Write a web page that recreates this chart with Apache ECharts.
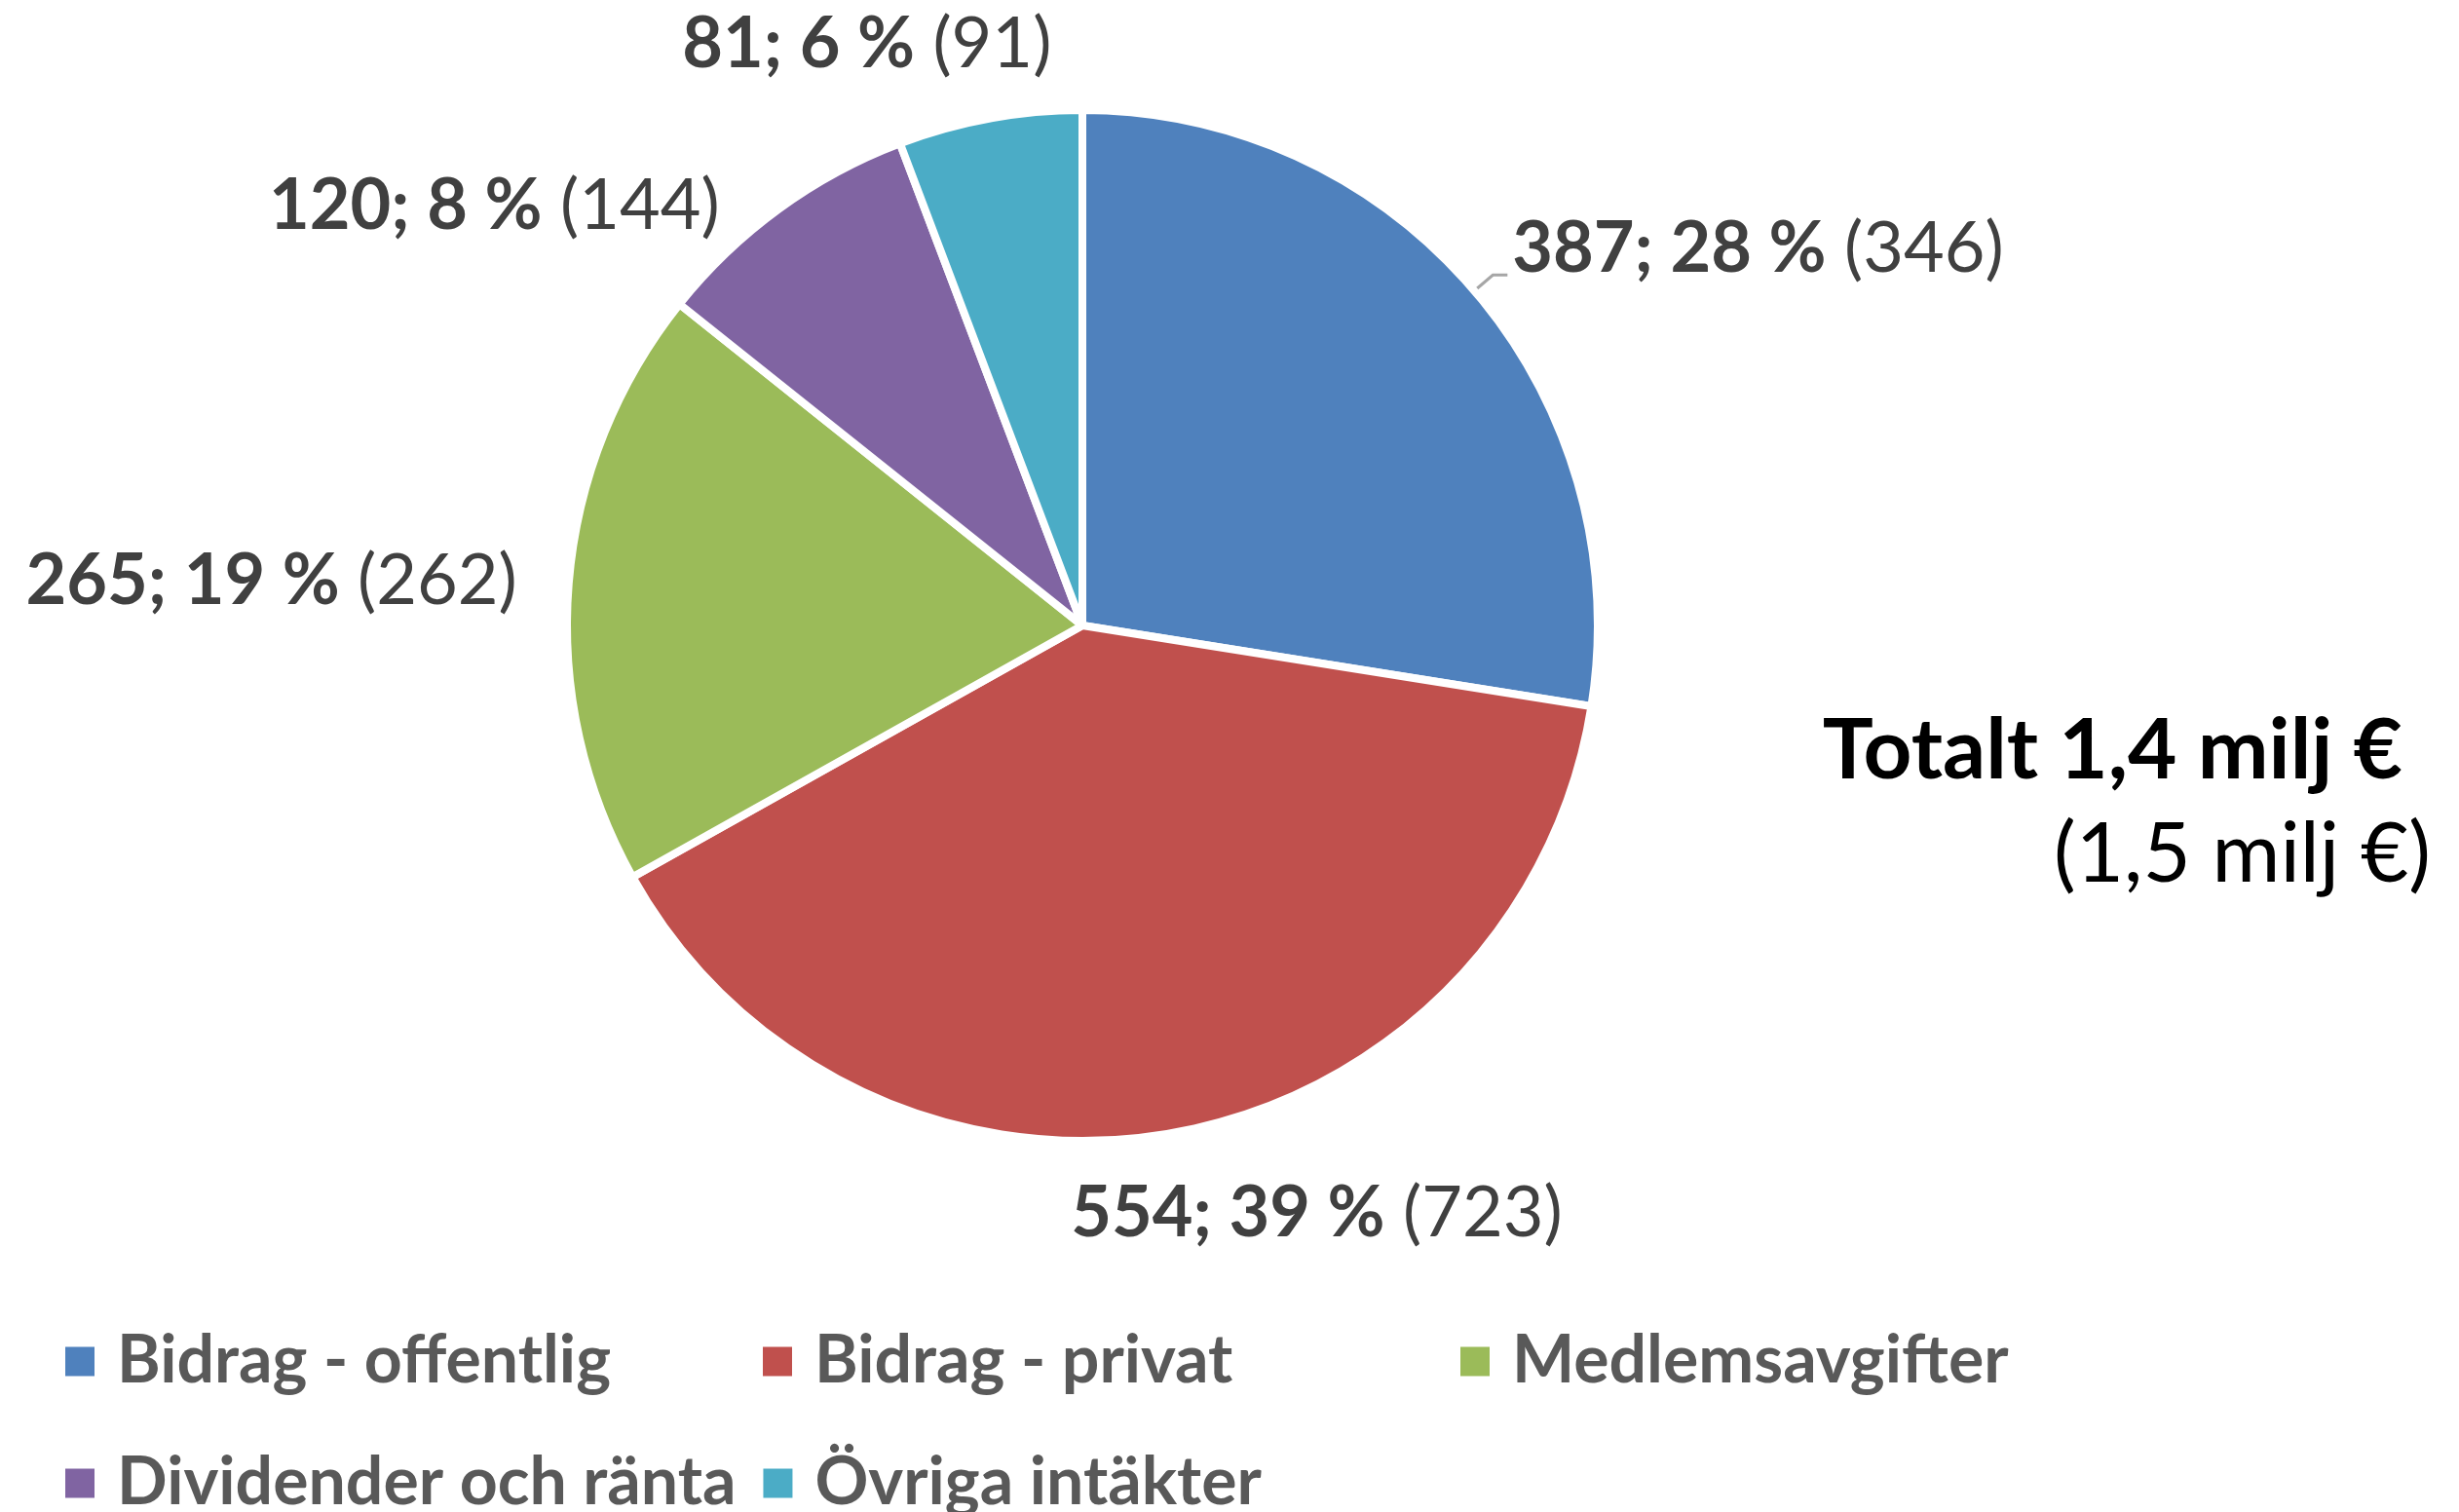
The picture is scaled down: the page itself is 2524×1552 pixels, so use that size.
<!DOCTYPE html>
<html>
<head>
<meta charset="utf-8">
<script src="https://cdn.jsdelivr.net/npm/echarts@6/dist/echarts.min.js"></script>
<style>
  html, body { margin: 0; padding: 0; background: #fff; }
  #main { width: 2524px; height: 1552px; }
</style>
</head>
<body>
<div id="main"></div>
<script>
// data
var categories = ["Bidrag - offentlig", "Bidrag - privat", "Medlemsavgifter", "Dividender och ränta", "Övriga intäkter"];
var values = [387, 554, 265, 120, 81];
var percents = [28, 39, 19, 8, 6];
var prevValues = [346, 723, 262, 144, 91];
var colors = ["#4F81BD", "#C0504D", "#9BBB59", "#8064A2", "#4BACC6"];

// nudges for the outside labels, relative to where echarts puts them
var labelShift = [[0, -26], [-129, 58], [-8, 0], [-26, 18], [88, -51]];

var chartDom = document.getElementById("main");
var myChart = echarts.init(chartDom);

var pieData = categories.map(function (name, i) {
  return {
    name: name,
    value: values[i],
    itemStyle: { color: colors[i] },
    labelLine: { show: i === 0 }
  };
});

var option = {
  backgroundColor: "#ffffff",
  animation: false,
  title: [
    {
      text: "Totalt 1,4 milj €",
      right: 53,
      top: 722,
      textStyle: { fontFamily: "Lato", fontSize: 87, fontWeight: "bold", color: "#000" }
    },
    {
      text: "(1,5 milj €)",
      right: 24,
      top: 830,
      textStyle: { fontFamily: "Lato", fontSize: 85, fontWeight: "normal", color: "#000" }
    }
  ],
  legend: {
    left: 60,
    top: 1343,
    width: 2200,
    itemWidth: 32,
    itemHeight: 32,
    itemGap: 26,
    icon: "rect",
    data: categories,
    textStyle: {
      fontFamily: "Lato",
      fontSize: 68,
      fontWeight: "bold",
      color: "#595959",
      width: 635,
      lineHeight: 99,
      padding: [0, 0, 0, 17]
    }
  },
  series: [
    {
      type: "pie",
      center: [1111, 642],
      radius: 529,
      startAngle: 90,
      clockwise: true,
      data: pieData,
      itemStyle: { borderColor: "#fff", borderWidth: 8 },
      emphasis: { disabled: true },
      labelLine: {
        length: 25,
        length2: 15,
        lineStyle: { color: "#A6A6A6", width: 3 }
      },
      labelLayout: function (p) {
        var s = labelShift[p.dataIndex];
        return { dx: s[0], dy: s[1] };
      },
      label: {
        show: true,
        position: "outside",
        formatter: function (p) {
          var i = p.dataIndex;
          return "{b|" + values[i] + "; " + percents[i] + " %}{n| (" + prevValues[i] + ")}";
        },
        rich: {
          b: { fontFamily: "Lato", fontSize: 72, fontWeight: "bold", color: "#404040" },
          n: { fontFamily: "Lato", fontSize: 72, fontWeight: "normal", color: "#404040" }
        }
      }
    }
  ]
};

option && myChart.setOption(option);
</script>
</body>
</html>
